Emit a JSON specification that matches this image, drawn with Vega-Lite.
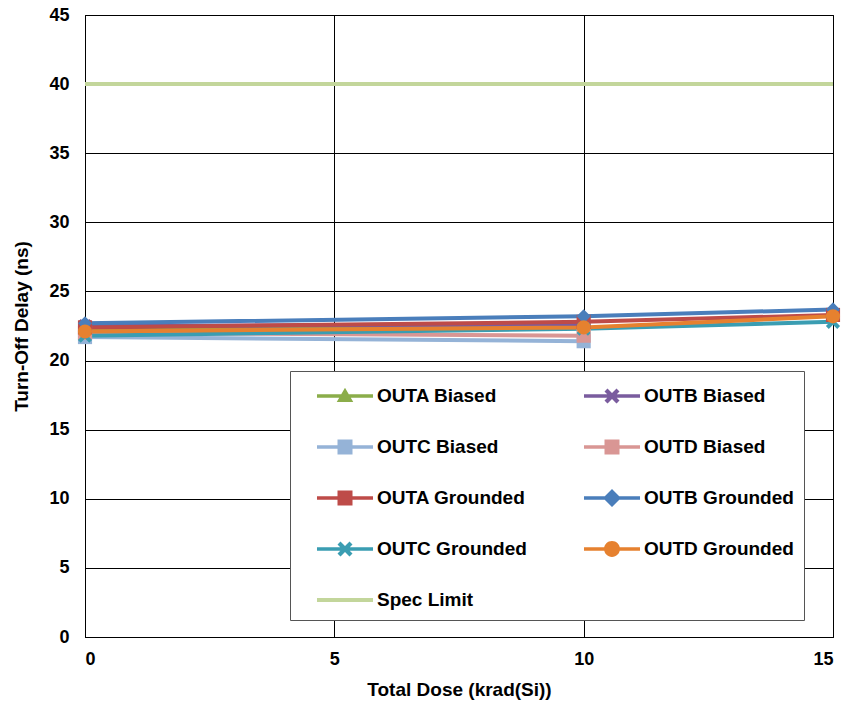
{
  "$schema": "https://vega.github.io/schema/vega-lite/v6.json",
  "width": 748,
  "height": 622,
  "autosize": {"type": "none"},
  "padding": {"left": 85, "top": 15, "right": 15, "bottom": 67},
  "background": "white",
  "config": {
    "view": {"stroke": "black", "strokeWidth": 1},
    "font": "Liberation Sans",
    "axis": {
      "domainColor": "black", "gridColor": "black", "gridOpacity": 1, "gridWidth": 1,
      "ticks": false, "labelFont": "Liberation Sans", "labelFontWeight": "bold",
      "labelFontSize": 18, "labelColor": "black", "titleFont": "Liberation Sans", "titleFontWeight": "bold",
      "titleFontSize": 19, "titleColor": "black"
    }
  },
  "data": {"values": [
    {"dose": 0, "delay": 22.3, "series": "OUTA Biased"},
    {"dose": 10, "delay": 22.5, "series": "OUTA Biased"},
    {"dose": 0, "delay": 22.5, "series": "OUTB Biased"},
    {"dose": 10, "delay": 22.6, "series": "OUTB Biased"},
    {"dose": 0, "delay": 21.7, "series": "OUTC Biased"},
    {"dose": 10, "delay": 21.4, "series": "OUTC Biased"},
    {"dose": 0, "delay": 22.0, "series": "OUTD Biased"},
    {"dose": 10, "delay": 21.8, "series": "OUTD Biased"},
    {"dose": 0, "delay": 22.4, "series": "OUTA Grounded"},
    {"dose": 10, "delay": 22.8, "series": "OUTA Grounded"},
    {"dose": 15, "delay": 23.3, "series": "OUTA Grounded"},
    {"dose": 0, "delay": 22.7, "series": "OUTB Grounded"},
    {"dose": 10, "delay": 23.2, "series": "OUTB Grounded"},
    {"dose": 15, "delay": 23.7, "series": "OUTB Grounded"},
    {"dose": 0, "delay": 21.8, "series": "OUTC Grounded"},
    {"dose": 10, "delay": 22.3, "series": "OUTC Grounded"},
    {"dose": 15, "delay": 22.8, "series": "OUTC Grounded"},
    {"dose": 0, "delay": 22.1, "series": "OUTD Grounded"},
    {"dose": 10, "delay": 22.4, "series": "OUTD Grounded"},
    {"dose": 15, "delay": 23.2, "series": "OUTD Grounded"},
    {"dose": 0, "delay": 40, "series": "Spec Limit"},
    {"dose": 15, "delay": 40, "series": "Spec Limit"}
  ]},
  "encoding": {
    "x": {"field": "dose", "type": "quantitative", "title": "Total Dose (krad(Si))",
      "scale": {"domain": [0, 15], "nice": false},
      "axis": {"values": [0, 5, 10, 15], "titlePadding": 12, "labelPadding": 13}},
    "y": {"field": "delay", "type": "quantitative", "title": "Turn-Off Delay (ns)",
      "scale": {"domain": [0, 45], "nice": false},
      "axis": {"values": [0, 5, 10, 15, 20, 25, 30, 35, 40, 45], "titlePadding": 17, "labelPadding": 16}}
  },
  "layer": [
    {
      "mark": {"type": "line", "strokeWidth": 4},
      "encoding": {
        "color": {"field": "series", "type": "nominal",
          "scale": {
            "domain": ["OUTA Biased", "OUTB Biased", "OUTC Biased", "OUTD Biased", "OUTA Grounded", "OUTB Grounded", "OUTC Grounded", "OUTD Grounded", "Spec Limit"],
            "range": ["#8BAD4A", "#7A5C9E", "#95B3D7", "#D99694", "#BE4B48", "#4A7EBB", "#3A9DB2", "#E6812F", "#C3D69B"]
          },
          "legend": {
            "title": null, "orient": "none", "legendX": 205, "legendY": 356,
            "direction": "horizontal", "columns": 2, "columnPadding": 40, "rowPadding": 26,
            "padding": 10, "strokeColor": "#555555", "fillColor": "white",
            "labelFont": "Liberation Sans", "labelFontSize": 19, "labelFontWeight": "bold", "labelColor": "black",
            "labelOffset": 47, "symbolSize": 900, "labelLimit": 400,
            "encode": {
              "legend": {"update": {"width": {"value": 513}}},
              "symbols": {"update": {
              "fill": {"scale": "color", "field": "value"},
              "stroke": {"value": "transparent"},
              "strokeWidth": {"value": 0},
              "opacity": {"value": 1},
              "fillOpacity": {"value": 1},
              "shape": {"signal": "datum.value === 'OUTA Biased' ? 'M0.133,-0.117H3.867V0.117H0.133Z M2,-0.55L2.55,0.4H1.45Z' : datum.value === 'OUTB Biased' || datum.value === 'OUTC Grounded' ? 'M0.133,-0.117H3.867V0.117H0.133Z M1.5,-0.3L1.7,-0.5L2,-0.2L2.3,-0.5L2.5,-0.3L2.2,0L2.5,0.3L2.3,0.5L2,0.2L1.7,0.5L1.5,0.3L1.8,0Z' : datum.value === 'OUTB Grounded' ? 'M0.133,-0.117H3.867V0.117H0.133Z M2,-0.6L2.6,0L2,0.6L1.4,0Z' : datum.value === 'OUTD Grounded' ? 'M0.133,-0.117H3.867V0.117H0.133Z M1.47,0A0.53,0.53 0 1,1 2.53,0A0.53,0.53 0 1,1 1.47,0Z' : datum.value === 'Spec Limit' ? 'M0.133,-0.13H3.867V0.13H0.133Z' : 'M0.133,-0.117H3.867V0.117H0.133Z M1.5,-0.5H2.5V0.5H1.5Z'"}
            }}}
          }
        }
      }
    },
    {
      "transform": [{"filter": "datum.series !== 'Spec Limit'"}],
      "mark": {"type": "point", "filled": true, "opacity": 1, "size": 200},
      "encoding": {
        "color": {"field": "series", "type": "nominal", "legend": null},
        "shape": {"field": "series", "type": "nominal", "legend": null,
          "scale": {
            "domain": ["OUTA Biased", "OUTB Biased", "OUTC Biased", "OUTD Biased", "OUTA Grounded", "OUTB Grounded", "OUTC Grounded", "OUTD Grounded"],
            "range": ["triangle-up", "M-1,-0.6L-0.6,-1L0,-0.4L0.6,-1L1,-0.6L0.4,0L1,0.6L0.6,1L0,0.4L-0.6,1L-1,0.6L-0.4,0Z", "square", "square", "square", "diamond", "M-1,-0.6L-0.6,-1L0,-0.4L0.6,-1L1,-0.6L0.4,0L1,0.6L0.6,1L0,0.4L-0.6,1L-1,0.6L-0.4,0Z", "circle"]
          }
        }
      }
    }
  ]
}
